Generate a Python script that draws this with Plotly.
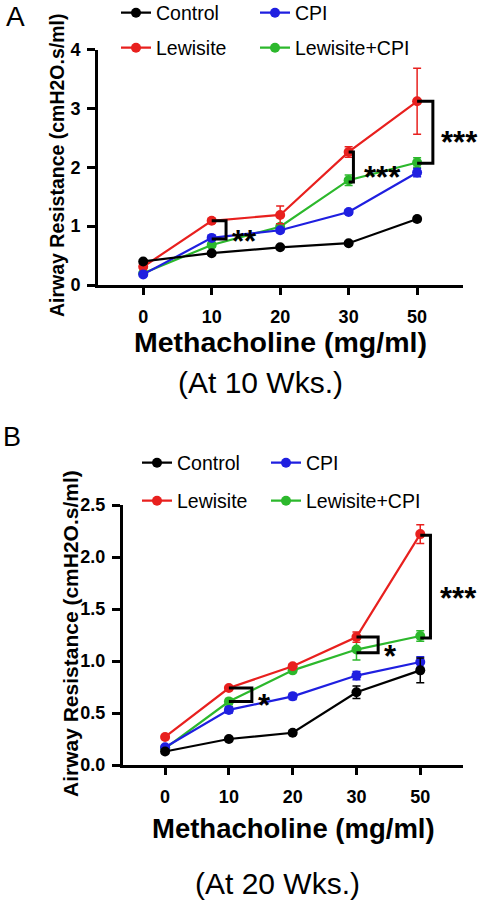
import plotly.graph_objects as go

# ---------------- data ----------------
doses = ["0", "10", "20", "30", "50"]
series_names = ["Control", "CPI", "Lewisite", "Lewisite+CPI"]
colors = {"Control": "#000000", "CPI": "#1f1fe0", "Lewisite": "#e8201e", "Lewisite+CPI": "#2cb82c"}

# Panel A (10 weeks)
a_control = [0.40, 0.54, 0.64, 0.71, 1.12]
a_control_err = [0.02, 0.03, 0.02, 0.03, 0.04]
a_cpi = [0.18, 0.80, 0.93, 1.24, 1.91]
a_cpi_err = [0.02, 0.04, 0.04, 0.04, 0.07]
a_lew = [0.31, 1.09, 1.19, 2.26, 3.12]
a_lew_err = [0.03, 0.04, 0.15, 0.09, 0.56]
a_lewcpi = [0.20, 0.68, 0.99, 1.78, 2.08]
a_lewcpi_err = [0.02, 0.04, 0.05, 0.09, 0.08]

# Panel B (20 weeks)
b_control = [0.13, 0.25, 0.31, 0.70, 0.91]
b_control_err = [0.02, 0.02, 0.02, 0.06, 0.12]
b_cpi = [0.17, 0.53, 0.66, 0.86, 0.99]
b_cpi_err = [0.02, 0.03, 0.03, 0.04, 0.05]
b_lew = [0.27, 0.74, 0.95, 1.23, 2.22]
b_lew_err = [0.02, 0.02, 0.02, 0.05, 0.09]
b_lewcpi = [0.16, 0.61, 0.91, 1.11, 1.24]
b_lewcpi_err = [0.02, 0.03, 0.02, 0.10, 0.05]

# significance brackets: (x start, x of vertical, y top, y bottom, label, label x, label y)
a_brackets = [
    (1.0, 1.21, 1.09, 0.78, "**", 1.48, 0.88),
    (3.0, 3.07, 2.26, 1.75, "***", 3.50, 1.97),
    (4.0, 4.23, 3.12, 2.07, "***", 4.62, 2.55),
]
b_brackets = [
    (1.0, 1.36, 0.74, 0.61, "*", 1.56, 0.65),
    (3.0, 3.34, 1.23, 1.08, "*", 3.53, 1.12),
    (4.0, 4.16, 2.21, 1.22, "***", 4.60, 1.68),
]

W, H = 484, 905
FONT = "Liberation Sans, Arial, sans-serif"

fig = go.Figure()

panel_data = {
    "A": {"Control": (a_control, a_control_err), "CPI": (a_cpi, a_cpi_err),
          "Lewisite": (a_lew, a_lew_err), "Lewisite+CPI": (a_lewcpi, a_lewcpi_err)},
    "B": {"Control": (b_control, b_control_err), "CPI": (b_cpi, b_cpi_err),
          "Lewisite": (b_lew, b_lew_err), "Lewisite+CPI": (b_lewcpi, b_lewcpi_err)},
}
legend_of = {
    "A": {"Control": "legend", "CPI": "legend", "Lewisite": "legend2", "Lewisite+CPI": "legend2"},
    "B": {"Control": "legend3", "CPI": "legend3", "Lewisite": "legend4", "Lewisite+CPI": "legend4"},
}
first_col_width = {"A": 94, "B": 84}
rank = {"Control": 1, "CPI": 2, "Lewisite": 1, "Lewisite+CPI": 2}
axes = {"A": ("x", "y"), "B": ("x2", "y2")}

draw_order = ["Lewisite+CPI", "Lewisite", "CPI", "Control"]
for panel in ["A", "B"]:
    for name in draw_order:
        vals, errs = panel_data[panel][name]
        lw = first_col_width[panel] if rank[name] == 1 else 140
        fig.add_trace(go.Scatter(
            x=doses, y=vals, name=name, mode="lines+markers",
            xaxis=axes[panel][0], yaxis=axes[panel][1],
            line=dict(color=colors[name], width=2.2),
            marker=dict(color=colors[name], size=10),
            error_y=dict(type="data", array=errs, visible=True, color=colors[name],
                         thickness=1.5, width=4),
            legend=legend_of[panel][name], legendrank=rank[name], legendwidth=lw,
        ))

tick_font = dict(family=FONT, size=18, color="black", weight=700)
common_x = dict(type="category", range=[-0.66, 4.67], showline=True, linecolor="black",
                linewidth=3, ticks="outside", ticklen=7, tickwidth=2.5, tickcolor="black",
                tickfont=tick_font, showgrid=False, zeroline=False, fixedrange=True,
                ticklabelstandoff=6)
common_y = dict(showline=True, linecolor="black", linewidth=3, ticks="outside", ticklen=8,
                tickwidth=2.5, tickcolor="black", tickfont=tick_font, showgrid=False,
                zeroline=False, fixedrange=True, ticklabelstandoff=3)

fig.update_layout(
    xaxis=dict(common_x, domain=[98 / W, 463 / W], anchor="y"),
    yaxis=dict(common_y, domain=[1 - 285 / H, 1 - 49.5 / H], range=[0, 4],
               tickvals=[0, 1, 2, 3, 4], anchor="x"),
    xaxis2=dict(common_x, domain=[123 / W, 463 / W], anchor="y2"),
    yaxis2=dict(common_y, domain=[1 - 765 / H, 1 - 505 / H], range=[0, 2.5],
                tickvals=[0, 0.5, 1.0, 1.5, 2.0, 2.5], tickformat=".1f", anchor="x2"),
)

leg_font = dict(family=FONT, size=19.5, color="black")
def leg(x, y):
    return dict(orientation="h", x=x, y=y, xanchor="left", yanchor="middle",
                font=leg_font, bgcolor="rgba(0,0,0,0)", itemwidth=30)

fig.update_layout(
    legend=leg(116 / W, 1 - 13 / H),
    legend2=leg(116 / W, 1 - 48 / H),
    legend3=leg(137 / W, 1 - 463 / H),
    legend4=leg(137 / W, 1 - 501 / H),
)

# brackets and stars
shapes = []
annotations = []
for brackets, (xa, ya) in [(a_brackets, axes["A"]), (b_brackets, axes["B"])]:
    for x0, xv, yt, yb, lab, lx, ly in brackets:
        path = f"M {x0} {yt} L {xv} {yt} L {xv} {yb} L {x0} {yb}"
        shapes.append(dict(type="path", path=path, xref=xa, yref=ya,
                           line=dict(color="black", width=3)))
        annotations.append(dict(x=lx, y=ly, xref=xa, yref=ya, text=lab, showarrow=False,
                                font=dict(family=FONT, size=31, color="black", weight=700),
                                xanchor="center", yanchor="middle", yshift=-8))

def paper_text(text, x, y, size, bold=False, angle=0):
    annotations.append(dict(x=x / W, y=1 - y / H, xref="paper", yref="paper", text=text,
                            showarrow=False, textangle=angle, xanchor="center", yanchor="middle",
                            font=dict(family=FONT, size=size, color="black",
                                      weight=700 if bold else 400)))

paper_text("A", 15, 17, 28)
paper_text("Airway Resistance (cmH2O.s/ml)", 57, 166, 19.5, bold=True, angle=-90)
paper_text("Methacholine (mg/ml)", 280, 342, 28.5, bold=True)
paper_text("(At 10 Wks.)", 260, 382, 30)

paper_text("B", 12, 437, 27)
paper_text("Airway Resistance (cmH2O.s/ml)", 70, 634, 21, bold=True, angle=-90)
paper_text("Methacholine (mg/ml)", 293, 828, 27.5, bold=True)
paper_text("(At 20 Wks.)", 277, 883, 30)

fig.update_layout(
    width=W, height=H, margin=dict(l=0, r=0, t=0, b=0, autoexpand=False),
    paper_bgcolor="white", plot_bgcolor="white",
    shapes=shapes, annotations=annotations, showlegend=True,
    font=dict(family=FONT, color="black"),
)

fig.write_html(
    "out.html",
    config={"displayModeBar": False},
    post_script="document.body.style.margin='0';document.body.style.overflow='hidden';",
)
